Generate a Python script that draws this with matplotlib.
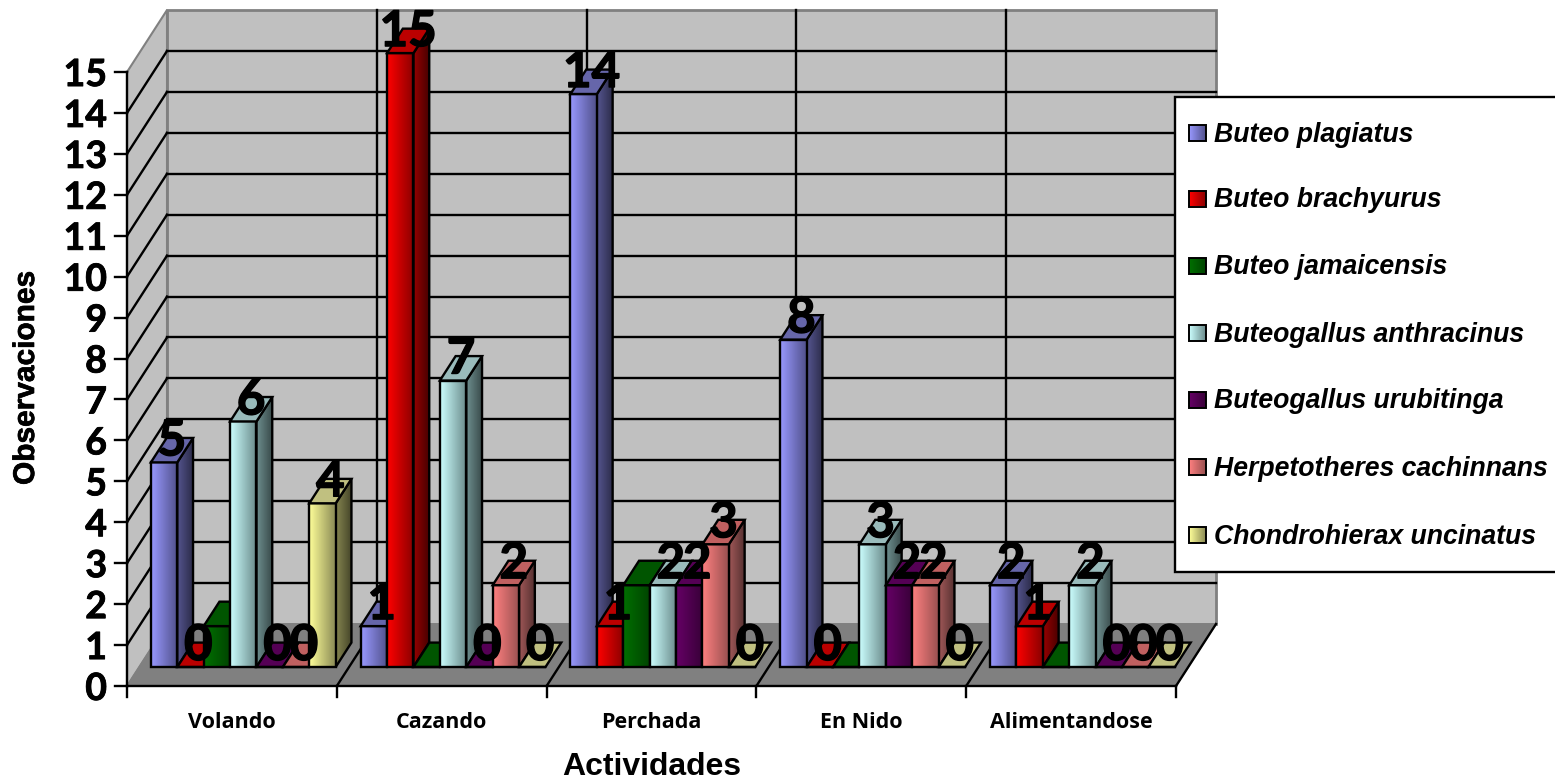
import numpy as np
import matplotlib
matplotlib.use("Agg")
import matplotlib.pyplot as plt
import matplotlib.patheffects as pe
from matplotlib.patches import Polygon, Rectangle

activities = ["Volando", "Cazando", "Perchada", "En Nido", "Alimentandose"]
species = ["Buteo plagiatus", "Buteo brachyurus", "Buteo jamaicensis",
           "Buteogallus anthracinus", "Buteogallus urubitinga",
           "Herpetotheres cachinnans", "Chondrohierax uncinatus"]

plagiatus = [5, 1, 14, 8, 2]
brachyurus = [0, 15, 1, 0, 1]
jamaicensis = [1, 0, 2, 0, 0]
anthracinus = [6, 7, 2, 3, 2]
urubitinga = [0, 0, 2, 2, 0]
cachinnans = [0, 2, 3, 2, 0]
uncinatus = [4, 0, 0, 0, 0]
series = [plagiatus, brachyurus, jamaicensis, anthracinus, urubitinga, cachinnans, uncinatus]
y_ticks = list(range(16))

# jamaicensis has no data labels
show_label = [True, True, False, True, True, True, True]

# (front left, front right, side left, side right, top)
colors = [
    ("#9999ff", "#50508a", "#55558f", "#2c2c4a", "#6666aa"),
    ("#ff0000", "#8a0000", "#990000", "#4a0000", "#bb0000"),
    ("#007000", "#004400", "#004a00", "#002a00", "#005500"),
    ("#ccffff", "#6a8a8a", "#6f9090", "#3a4c4c", "#99bbbb"),
    ("#660066", "#380038", "#400040", "#220022", "#550055"),
    ("#ff8080", "#985050", "#a05858", "#553030", "#c06060"),
    ("#ffff99", "#8a8a55", "#858550", "#444428", "#c0c080"),
]

W, H = 1555, 783
CAT_W = 209.8
UNIT = 40.93
X0, Y0 = 127, 686

# depth of the box and of a bar, in axis units
WALL_DX, WALL_DY = 40 / CAT_W, 62 / UNIT
BAR_D0 = 0.306
BAR_D1 = 0.70
GAP = 0.0555
BAR_W = 26.4 / CAT_W

LABEL_FONT = ["Lato", "DejaVu Sans"]
LINE = 1.7


def hex_rgb(c):
    return np.array(matplotlib.colors.to_rgb(c))


def fill_grad(ax, verts, c1, c2, zorder):
    verts = np.array(verts)
    t = np.linspace(0, 1, 64)[None, :, None]
    img = hex_rgb(c1)[None, None, :] * (1 - t) + hex_rgb(c2)[None, None, :] * t
    im = ax.imshow(img, extent=(verts[:, 0].min(), verts[:, 0].max(), verts[:, 1].min(), verts[:, 1].max()),
                   aspect="auto", interpolation="bilinear", zorder=zorder, origin="lower")
    im.set_clip_path(Polygon(verts, closed=True, transform=ax.transData))


def outline(ax, verts, zorder, lw=LINE, color="black"):
    ax.add_patch(Polygon(verts, closed=True, fill=False, edgecolor=color, lw=lw, zorder=zorder, joinstyle="miter"))


def draw_bar(ax, x, value, col, zorder):
    x1 = x + BAR_W
    sx, sy = WALL_DX * BAR_D0, WALL_DY * BAR_D0
    ex, ey = WALL_DX * BAR_D1, WALL_DY * BAR_D1
    front = [(x + sx, sy), (x1 + sx, sy), (x1 + sx, value + sy), (x + sx, value + sy)]
    side = [(x1 + sx, sy), (x1 + ex, ey), (x1 + ex, value + ey), (x1 + sx, value + sy)]
    top = [(x + sx, value + sy), (x1 + sx, value + sy), (x1 + ex, value + ey), (x + ex, value + ey)]
    if value > 0:
        fill_grad(ax, side, col[2], col[3], zorder)
        outline(ax, side, zorder + 0.1)
        fill_grad(ax, front, col[0], col[1], zorder + 0.2)
        outline(ax, front, zorder + 0.3)
    ax.add_patch(Polygon(top, closed=True, facecolor=col[4], edgecolor="black", lw=LINE, zorder=zorder + 0.4))
    if value == 0:
        ax.plot([x + sx, x1 + sx], [sy, sy], color="black", lw=LINE, zorder=zorder + 0.4)


fig = plt.figure(figsize=(W / 100, H / 100), dpi=100)
ax = fig.add_axes([0, 0, 1, 1])
ax.set_xlim(-X0 / CAT_W, (W - X0) / CAT_W)
ax.set_ylim((Y0 - H) / UNIT, Y0 / UNIT)
ax.axis("off")

n = len(activities)
top_val = y_ticks[-1]

# back wall, side wall and floor
ax.add_patch(Polygon([(WALL_DX, WALL_DY), (n + WALL_DX, WALL_DY), (n + WALL_DX, top_val + WALL_DY), (WALL_DX, top_val + WALL_DY)],
                     closed=True, facecolor="#c0c0c0", edgecolor="#808080", lw=2, zorder=1))
ax.add_patch(Polygon([(0, 0), (WALL_DX, WALL_DY), (WALL_DX, top_val + WALL_DY), (0, top_val)],
                     closed=True, facecolor="#c0c0c0", edgecolor="#808080", lw=1.5, zorder=1))
ax.add_patch(Polygon([(0, 0), (n, 0), (n + WALL_DX, WALL_DY), (WALL_DX, WALL_DY)],
                     closed=True, facecolor="#808080", edgecolor="#808080", lw=1, zorder=1.5))

# gridlines
for v in y_ticks[1:-1]:
    ax.plot([WALL_DX, n + WALL_DX], [v + WALL_DY, v + WALL_DY], color="black", lw=LINE, zorder=1.2)
for v in y_ticks[1:-1]:
    ax.plot([0, WALL_DX], [v, v + WALL_DY], color="black", lw=LINE, zorder=1.2)
for k in range(1, n):
    ax.plot([k + WALL_DX, k + WALL_DX], [WALL_DY, top_val + WALL_DY], color="black", lw=LINE, zorder=1.2)
for k in range(1, n + 1):
    ax.plot([k, k + WALL_DX], [0, WALL_DY], color="black", lw=LINE, zorder=1.6)

# axis lines and ticks
ax.plot([0, 0], [0, top_val], color="black", lw=LINE, zorder=2)
ax.plot([0, n], [0, 0], color="black", lw=LINE, zorder=2)
for v in y_ticks:
    ax.plot([-12 / CAT_W, 0], [v, v], color="black", lw=LINE, zorder=2)
    t = ax.text(-20 / CAT_W, v, str(v), ha="right", va="center_baseline", fontsize=27,
                fontweight="bold", family=LABEL_FONT, zorder=2)
    t.set_path_effects([pe.withStroke(linewidth=0.6, foreground="black")])
for k in range(n + 1):
    ax.plot([k, k], [0, -11 / UNIT], color="black", lw=LINE, zorder=2)
for k, name in enumerate(activities):
    ax.text(k + 0.5, -37 / UNIT, name, ha="center", va="center", fontsize=15.5,
            fontweight="bold", family="Open Sans", zorder=2)

# bars, left to right so nearer bars cover the side of the previous one
z = 3
for k in range(n):
    for s, vals in enumerate(series):
        draw_bar(ax, k + GAP + s * BAR_W, vals[k], colors[s], z)
        z += 1

# data labels above everything
for k in range(n):
    for s, vals in enumerate(series):
        if not show_label[s]:
            continue
        x = k + GAP + s * BAR_W
        cx = x + BAR_W / 2 + WALL_DX * (BAR_D0 + BAR_D1) / 2
        base = vals[k] + WALL_DY * BAR_D0 + 7 / UNIT
        t = ax.text(cx, base, str(vals[k]), ha="center", va="baseline", fontsize=35.5,
                    family=LABEL_FONT, fontweight="bold", color="black", zorder=500)
        t.set_path_effects([pe.withStroke(linewidth=1.0, foreground="black")])

ax.set_xlim(-X0 / CAT_W, (W - X0) / CAT_W)
ax.set_ylim((Y0 - H) / UNIT, Y0 / UNIT)

# legend and axis titles on a pixel-scaled overlay
ov = fig.add_axes([0, 0, 1, 1], zorder=10)
ov.patch.set_alpha(0)
ov.axis("off")
ov.add_patch(Rectangle((1175, 97), 385, 475, facecolor="white", edgecolor="black", lw=1.7, zorder=1))
legend_y = [133, 198.5, 266, 333, 400, 467, 535]
for name, col, y in zip(species, colors, legend_y):
    key = [(1189, y - 8), (1206, y - 8), (1206, y + 8), (1189, y + 8)]
    fill_grad(ov, key, col[0], col[1], 2)
    outline(ov, key, 3, lw=1.4)
    ov.text(1214, y + 1.5, name, ha="left", va="center", fontsize=19.2, fontweight="bold",
            fontstyle="italic", family="Liberation Sans", zorder=3)
ov.text(652, 767, "Actividades", ha="center", va="center", fontsize=23, fontweight="bold",
        family="Liberation Sans")
t = ov.text(26, 378, "Observaciones", ha="center", va="center", rotation=90, fontsize=21.5, fontweight="bold",
            family="Liberation Sans")
t.set_path_effects([pe.withStroke(linewidth=0.5, foreground="black")])
ov.set_xlim(0, W)
ov.set_ylim(H, 0)

fig.savefig("out.png", dpi=100)
